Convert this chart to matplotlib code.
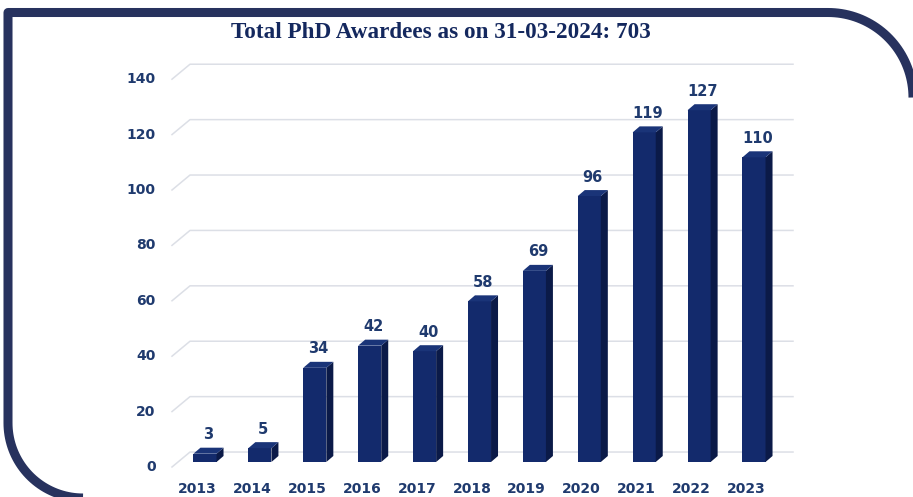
import numpy as np
import matplotlib
matplotlib.use("Agg")
import matplotlib.pyplot as plt
from matplotlib.patches import Polygon

years = ["2013", "2014", "2015", "2016", "2017", "2018", "2019", "2020", "2021", "2022", "2023"]
awardees = [3, 5, 34, 42, 40, 58, 69, 96, 119, 127, 110]
yticks = [0, 20, 40, 60, 80, 100, 120, 140]
title = "Total PhD Awardees as on 31-03-2024: 703"

W, H = 913, 497
fig = plt.figure(figsize=(W / 100, H / 100), dpi=100)

# decorative rounded frame, drawn in pixel space
bg = fig.add_axes([0, 0, 1, 1])
bg.set_xlim(0, W)
bg.set_ylim(H, 0)
bg.axis("off")
frame_col = "#27325e"
t = np.linspace(np.pi / 2, 0, 40)
R1, cx1, cy1 = 85, 828, 12.5 + 85
arc_tr = np.c_[cx1 + R1 * np.cos(t), cy1 - R1 * np.sin(t)]
t2 = np.linspace(np.pi, np.pi / 2, 40)
R2, cx2, cy2 = 75, 8 + 75, 423
arc_bl = np.c_[cx2 + R2 * np.cos(t2), cy2 + R2 * np.sin(t2)]
pts = np.vstack([arc_bl[::-1], [[8, 423], [8, 12.5], [828, 12.5]], arc_tr])
bg.plot(pts[:, 0], pts[:, 1], color=frame_col, lw=6.5, solid_joinstyle="round", solid_capstyle="butt")

# chart axes: bar index on x, value on y
x0, dx = 205, 54.9
ky = 2.77
left_px, right_px = 150, 800
top_px, bot_px = 40, 482
ax = fig.add_axes([left_px / W, (H - bot_px) / H, (right_px - left_px) / W, (bot_px - top_px) / H])
ax.set_xlim((left_px - x0) / dx, (right_px - x0) / dx)
ax.set_ylim((462 - bot_px) / ky, (462 - top_px) / ky)
ax.axis("off")

n = len(years)
xs = np.arange(n)
grid_col = "#dcdfe6"
# gridlines in perspective (front edge -> back wall)
fx, bx, ex = (172 - x0) / dx, (190 - x0) / dx, (793 - x0) / dx
for v in yticks:
    ax.plot([fx, bx, ex], [v - 1.8, v + 3.6, v + 3.6], color=grid_col, lw=1.1, zorder=1)
    ax.text(fx - 0.3, v - 1.8, str(v), ha="right", va="center", fontsize=10,
            fontweight="bold", color="#1f3a6e")

bw = 0.21
ddx, ddy = 7 / dx, 6 / ky
front_col = "#132a6c"
side_col = "#0b1a48"
top_col = "#1a3478"
ax.bar(xs, awardees, width=2 * bw, color=front_col, zorder=3)
for x, v in zip(xs, awardees):
    side = [(x + bw, 0), (x + bw + ddx, ddy), (x + bw + ddx, v + ddy), (x + bw, v)]
    top = [(x - bw, v), (x - bw + ddx, v + ddy), (x + bw + ddx, v + ddy), (x + bw, v)]
    ax.add_patch(Polygon(side, closed=True, facecolor=side_col, edgecolor="none", zorder=3))
    ax.add_patch(Polygon(top, closed=True, facecolor=top_col, edgecolor="none", zorder=3))
    ax.annotate(str(v), (x + ddx / 2, v + ddy), xytext=(0, 4), textcoords="offset points",
                ha="center", va="bottom", fontsize=10.5, fontweight="bold", color="#1f3a6e", zorder=4)

for x, lab in zip(xs, years):
    ax.text(x - 0.14, (462 - 489) / ky, lab, ha="center", va="center", fontsize=10,
            fontweight="bold", color="#1f3a6e")

fig.text(441 / W, 1 - 32 / H, title, ha="center", va="center", fontsize=16.7,
         fontweight="bold", family="Liberation Serif", color="#14285e")

fig.savefig("out.png", dpi=100)
